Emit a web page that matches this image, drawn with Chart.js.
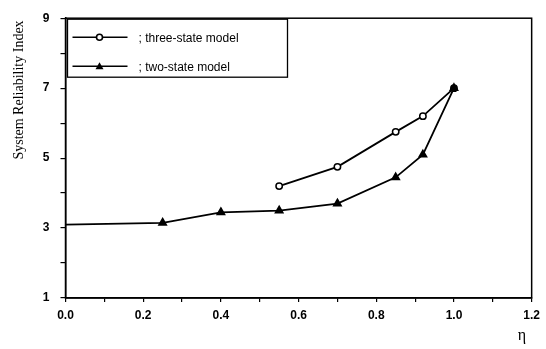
<!DOCTYPE html>
<html>
<head>
<meta charset="utf-8">
<script src="https://cdn.jsdelivr.net/npm/chart.js@4/dist/chart.umd.min.js"></script>
<style>
  body { margin: 0; background: #fff; }
  #wrap { width: 546px; height: 349px; }
</style>
</head>
<body>
<div id="wrap"><canvas id="reliability_chart" width="546" height="349"></canvas></div>
<script>
// values
const etaTwoState = [0, 0.25, 0.40, 0.55, 0.70, 0.85, 0.92, 1.0];
const sriTwoState = [3.1, 3.15, 3.45, 3.5, 3.7, 4.45, 5.1, 7.0];
const etaThreeState = [0.55, 0.70, 0.85, 0.92, 1.0];
const sriThreeState = [4.2, 4.75, 5.75, 6.2, 7.0];
const yTickLabels = [1, 3, 5, 7, 9];
const xTickLabels = ['0.0', '0.2', '0.4', '0.6', '0.8', '1.0', '1.2'];
const legendLabels = ['; three-state model', '; two-state model'];

function toPoints(xs, ys) {
    return xs.map((x, i) => ({ x: x, y: ys[i] }));
}

// frame on top/right + legend box + axis titles
const framePlugin = {
    id: 'framePlugin',
    afterDraw(chart) {
        const ctx = chart.ctx;
        const a = chart.chartArea;
        ctx.save();
        ctx.strokeStyle = '#000';
        ctx.lineWidth = 1.5;
        ctx.strokeRect(a.left, a.top, a.right - a.left, a.bottom - a.top);

        // legend
        ctx.lineWidth = 1.3;
        ctx.strokeRect(a.left + 2, a.top + 1, 220, 58);
        const rows = [a.top + 19, a.top + 48];
        ctx.font = '12px "Liberation Sans", Arial, sans-serif';
        ctx.textBaseline = 'middle';
        rows.forEach((y, i) => {
            ctx.lineWidth = 1.6;
            ctx.beginPath();
            ctx.moveTo(a.left + 7, y);
            ctx.lineTo(a.left + 62, y);
            ctx.stroke();
            const cx = a.left + 34;
            ctx.beginPath();
            if (i == 0) {
                ctx.arc(cx, y, 3, 0, Math.PI * 2);
                ctx.fillStyle = '#fff';
                ctx.fill();
                ctx.stroke();
            } else {
                ctx.moveTo(cx, y - 4);
                ctx.lineTo(cx + 4, y + 3);
                ctx.lineTo(cx - 4, y + 3);
                ctx.closePath();
                ctx.fillStyle = '#000';
                ctx.fill();
            }
            ctx.fillStyle = '#000';
            ctx.fillText(legendLabels[i], a.left + 73, y + 1);
        });

        // y title, sits toward the top like the original
        ctx.font = '14px "Liberation Serif", "Times New Roman", serif';
        ctx.translate(19, 90);
        ctx.rotate(-Math.PI / 2);
        ctx.textAlign = 'center';
        ctx.fillText('System Reliability Index', 0, 0);
        ctx.restore();

        // x title
        ctx.save();
        ctx.font = '16px "Liberation Serif", "Times New Roman", serif';
        ctx.textAlign = 'center';
        ctx.textBaseline = 'middle';
        ctx.fillStyle = '#000';
        ctx.fillText('\u03b7', 522, 336);
        ctx.restore();
    }
};

const tickFont = { family: '"Liberation Sans", Arial, sans-serif', size: 12, weight: 'bold' };

var chart = new Chart(document.getElementById('reliability_chart'), {
    type: 'line',
    data: {
        datasets: [{
            label: legendLabels[0],
            data: toPoints(etaThreeState, sriThreeState),
            borderColor: '#000',
            borderWidth: 1.8,
            pointStyle: 'circle',
            pointRadius: 3.2,
            pointBorderWidth: 1.5,
            pointBorderColor: '#000',
            // shared end point is printed solid in the original
            pointBackgroundColor: etaThreeState.map(x => x == 1.0 ? '#000' : '#fff'),
            tension: 0
        }, {
            label: legendLabels[1],
            data: toPoints(etaTwoState, sriTwoState),
            borderColor: '#000',
            backgroundColor: '#000',
            borderWidth: 1.8,
            pointStyle: 'triangle',
            // no marker where the line leaves the axis
            pointRadius: etaTwoState.map(x => x == 0 ? 0 : 4),
            pointBackgroundColor: '#000',
            pointBorderColor: '#000',
            tension: 0
        }]
    },
    options: {
        responsive: false,
        animation: false,
        layout: { padding: { top: 13, right: 14, left: 0, bottom: 0 } },
        plugins: { legend: { display: false }, tooltip: { enabled: false } },
        scales: {
            x: {
                type: 'linear',
                min: 0, max: 1.2,
                afterFit(scale) { scale.height = 51; },
                border: { color: '#000', width: 1.5 },
                grid: { drawOnChartArea: false, color: '#000', tickLength: 4, lineWidth: 1.2 },
                ticks: {
                    stepSize: 0.1,
                    autoSkip: false,
                    maxRotation: 0,
                    padding: 6,
                    color: '#000',
                    font: tickFont,
                    callback: function (v) {
                        const k = Math.round(v * 10);
                        return k % 2 == 0 ? xTickLabels[k / 2] : '';
                    }
                }
            },
            y: {
                min: 1, max: 9,
                afterFit(scale) { scale.width = 65.5; },
                border: { color: '#000', width: 1.5 },
                grid: { drawOnChartArea: false, color: '#000', tickLength: 5, lineWidth: 1.2 },
                ticks: {
                    stepSize: 1,
                    autoSkip: false,
                    padding: 11,
                    color: '#000',
                    font: tickFont,
                    callback: function (v) {
                        return yTickLabels.includes(v) ? String(v) : '';
                    }
                }
            }
        }
    },
    plugins: [framePlugin]
});
</script>
</body>
</html>
